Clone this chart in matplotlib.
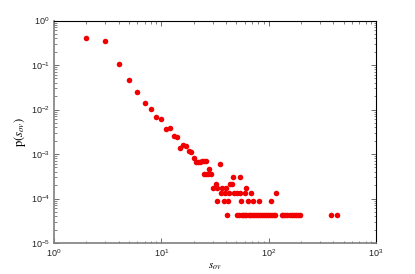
import matplotlib
matplotlib.use("Agg")
import matplotlib.pyplot as plt
from matplotlib.ticker import LogLocator, NullFormatter

# overlap size distribution
u = 4.35e-5  # smallest probability step

head_s = [2, 3, 4, 5, 6, 7, 8, 9, 10, 11, 12, 13, 14, 15, 16, 17, 18, 19, 20,
          21, 22, 23, 24, 25, 26, 28, 35]
head_p = [0.41, 0.355, 0.104, 0.046, 0.025, 0.014, 0.0104, 0.0068, 0.0062,
          0.0036, 0.0038, 0.0026, 0.0024, 0.00136, 0.0016, 0.0015, 0.00118,
          0.0011, 0.00083, 0.00065, 0.00065, 0.00065, 0.0007, 0.0007, 0.0007,
          0.00047, 0.0006]

s_8u = [25, 26, 27, 29]
s_7u = [47, 54]
s_5u = [32, 44, 46]
s_4u = [30, 33, 37, 40, 61]
s_3u = [36, 39, 43, 48, 51, 54, 60, 68, 116]
s_2u = [33, 38, 42, 55, 64, 72, 81, 106]
s_1u = [41, 51, 53, 56, 58, 60, 62, 65, 67, 70, 73, 76, 79, 83, 86, 90, 94,
        98, 102, 107, 111, 115, 132, 137, 142, 147, 158, 165, 172, 180, 188,
        196, 381, 431]

s_all = list(head_s)
p_all = list(head_p)
for k, ss in [(8, s_8u), (7, s_7u), (5, s_5u), (4, s_4u), (3, s_3u), (2, s_2u), (1, s_1u)]:
    s_all += ss
    p_all += [k * u] * len(ss)

plt.rcParams['font.family'] = ['Liberation Sans', 'DejaVu Sans']
plt.rcParams['mathtext.fontset'] = 'custom'
plt.rcParams['mathtext.rm'] = 'Liberation Sans'
plt.rcParams['mathtext.it'] = 'Liberation Sans:italic'

fig = plt.figure(figsize=(4.15, 2.74), dpi=100)
ax = fig.add_axes([0.130, 0.113, 0.776, 0.812])
ax.plot(s_all, p_all, 'o', color='#f00000', markersize=4.0, markeredgewidth=0)

ax.set_xscale('log')
ax.set_yscale('log')
ax.set_xlim(1, 1000)
ax.set_ylim(1e-5, 1)
ax.xaxis.set_major_locator(LogLocator(base=10, numticks=10))
ax.yaxis.set_major_locator(LogLocator(base=10, numticks=10))
ax.xaxis.set_minor_locator(LogLocator(base=10, subs=range(2, 10), numticks=20))
ax.yaxis.set_minor_locator(LogLocator(base=10, subs=range(2, 10), numticks=20))
ax.xaxis.set_minor_formatter(NullFormatter())
ax.yaxis.set_minor_formatter(NullFormatter())

for side in ['left', 'bottom']:
    ax.spines[side].set_color('#7f7f7f')
    ax.spines[side].set_linewidth(1.2)
for side in ['top', 'right']:
    ax.spines[side].set_color('black')
    ax.spines[side].set_linewidth(0.8)

ax.tick_params(which='both', direction='in', top=True, right=True,
               colors='#555555', labelcolor='#222222', labelsize=6.5)
ax.tick_params(which='major', length=3.5, width=0.6, pad=3)
ax.tick_params(which='minor', length=1.8, width=0.5)

ax.set_xlabel(r'$s_{ov}$', fontsize=8, math_fontfamily='stix', labelpad=2)
ax.set_ylabel(r'$\mathrm{p}(s_{ov})$', fontsize=9, math_fontfamily='stix', labelpad=2)

fig.savefig('out.png', dpi=100)
